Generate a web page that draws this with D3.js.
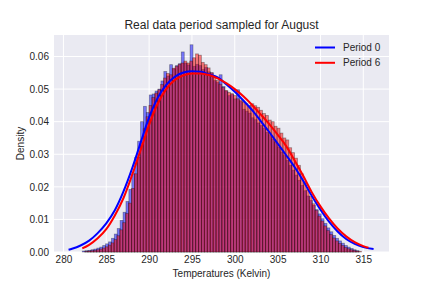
<!DOCTYPE html>
<html>
<head>
<meta charset="utf-8">
<script src="https://cdn.jsdelivr.net/npm/d3@7"></script>
<style>
  body { margin: 0; background: #fff; }
  text { font-family: "Liberation Sans", Arial, sans-serif; fill: #262626; }
</style>
</head>
<body>
<div id="chart"></div>
<script>
const SVG_WIDTH = 432;
const SVG_HEIGHT = 288;
const MARGIN = { top: 35, right: 43, bottom: 36, left: 54 };

// histogram bins (density)
const BIN_WIDTH = 0.34;
const period0Start = 282.2;
const period0Hist = [
    0.0003, 0.0004, 0.0005, 0.0007, 0.0009, 0.0012, 0.0015, 0.0020, 0.0025, 0.0031,
    0.0042, 0.0055, 0.0072, 0.0097, 0.0122, 0.0155, 0.0192, 0.0240, 0.0290, 0.0340,
    0.0400, 0.0447, 0.0428, 0.0482, 0.0485, 0.0494, 0.0500, 0.0525, 0.0554, 0.0540,
    0.0575, 0.0562, 0.0572, 0.0578, 0.0614, 0.0580, 0.0574, 0.0636, 0.0570, 0.0576,
    0.0572, 0.0560, 0.0566, 0.0553, 0.0550, 0.0526, 0.0520, 0.0544, 0.0508, 0.0494,
    0.0480, 0.0484, 0.0470, 0.0498, 0.0462, 0.0438, 0.0432, 0.0426, 0.0412, 0.0406,
    0.0396, 0.0388, 0.0380, 0.0367, 0.0360, 0.0347, 0.0336, 0.0322, 0.0307, 0.0296,
    0.0281, 0.0266, 0.0251, 0.0236, 0.0220, 0.0204, 0.0188, 0.0172, 0.0158, 0.0143,
    0.0130, 0.0117, 0.0102, 0.0088, 0.0074, 0.0062, 0.0051, 0.0042, 0.0034, 0.0027,
    0.0020, 0.0015, 0.0011, 0.0007, 0.0004
];
const period6Start = 282.5;
const period6Hist = [
    0.0002, 0.0003, 0.0004, 0.0005, 0.0007, 0.0009, 0.0012, 0.0016, 0.0021, 0.0028,
    0.0038, 0.0050, 0.0068, 0.0090, 0.0118, 0.0150, 0.0195, 0.0240, 0.0290, 0.0335,
    0.0378, 0.0415, 0.0450, 0.0474, 0.0488, 0.0498, 0.0514, 0.0534, 0.0548, 0.0544,
    0.0564, 0.0570, 0.0576, 0.0580, 0.0586, 0.0580, 0.0586, 0.0596, 0.0608, 0.0604,
    0.0582, 0.0575, 0.0565, 0.0550, 0.0536, 0.0526, 0.0515, 0.0505, 0.0496, 0.0490,
    0.0486, 0.0480, 0.0470, 0.0466, 0.0460, 0.0455, 0.0450, 0.0455, 0.0449, 0.0444,
    0.0435, 0.0425, 0.0419, 0.0405, 0.0400, 0.0386, 0.0380, 0.0365, 0.0350, 0.0344,
    0.0320, 0.0305, 0.0288, 0.0266, 0.0240, 0.0215, 0.0190, 0.0170, 0.0148, 0.0128,
    0.0110, 0.0095, 0.0080, 0.0066, 0.0054, 0.0043, 0.0034, 0.0026, 0.0020, 0.0014,
    0.0010, 0.0007, 0.0005, 0.0003, 0.0002
];

// fitted density curves
const period0CurveX = [280.6, 281, 282, 283, 284, 285, 286, 287, 288, 289, 290, 291, 292, 293, 294, 295, 296, 297, 298,
    299, 300, 301, 302, 303, 304, 305, 306, 307, 308, 309, 310, 311, 312, 313, 314, 315, 316.2];
const period0CurveY = [0.0007, 0.0010, 0.0020, 0.0035, 0.0058, 0.0088, 0.0128, 0.0185, 0.0255, 0.0335, 0.0413, 0.0473,
    0.0513, 0.0538, 0.0551, 0.0555, 0.0553, 0.0545, 0.0536, 0.0515, 0.0492, 0.0465, 0.0436, 0.0403, 0.0369, 0.0333,
    0.0297, 0.0260, 0.0218, 0.0172, 0.0130, 0.0093, 0.0063, 0.0040, 0.0025, 0.0015, 0.0009];
const period6CurveX = [282.2, 283, 284, 285, 286, 287, 288, 289, 290, 291, 292, 293, 294, 295, 296, 297, 298,
    299, 300, 301, 302, 303, 304, 305, 306, 307, 308, 309, 310, 311, 312, 313, 314, 315, 315.6];
const period6CurveY = [0.0011, 0.0022, 0.0042, 0.0070, 0.0112, 0.0165, 0.0235, 0.0312, 0.0390, 0.0455, 0.0500, 0.0528,
    0.0542, 0.0548, 0.0548, 0.0543, 0.0533, 0.0518, 0.0500, 0.0478, 0.0452, 0.0423, 0.0393, 0.0360, 0.0325, 0.0280,
    0.0233, 0.0183, 0.0140, 0.0103, 0.0072, 0.0048, 0.0030, 0.0018, 0.0013];

const xTicks = [280, 285, 290, 295, 300, 305, 310, 315];
const yTicks = [0.00, 0.01, 0.02, 0.03, 0.04, 0.05, 0.06];
const seriesNames = ["Period 0", "Period 6"];
const seriesColors = ["#0000ff", "#ff0000"];

const getScales = () => {
    const x = d3.scaleLinear()
        .domain([278.9, 318.0])
        .range([MARGIN.left, SVG_WIDTH - MARGIN.right]);
    const y = d3.scaleLinear()
        .domain([0, 0.0666])
        .range([SVG_HEIGHT - MARGIN.bottom, MARGIN.top]);
    return { x, y };
};

const appendBackground = (svg, scales) => {
    svg.append("rect")
        .attr("x", MARGIN.left)
        .attr("y", MARGIN.top)
        .attr("width", SVG_WIDTH - MARGIN.left - MARGIN.right)
        .attr("height", SVG_HEIGHT - MARGIN.top - MARGIN.bottom)
        .attr("fill", "#eaeaf2");

    svg.append("g").selectAll("line")
        .data(xTicks)
        .enter().append("line")
        .attr("x1", d => scales.x(d)).attr("x2", d => scales.x(d))
        .attr("y1", MARGIN.top).attr("y2", SVG_HEIGHT - MARGIN.bottom)
        .attr("stroke", "#fff").attr("stroke-width", 1);

    svg.append("g").selectAll("line")
        .data(yTicks)
        .enter().append("line")
        .attr("x1", MARGIN.left).attr("x2", SVG_WIDTH - MARGIN.right)
        .attr("y1", d => scales.y(d)).attr("y2", d => scales.y(d))
        .attr("stroke", "#fff").attr("stroke-width", 1);
};

const appendAxes = (svg, scales) => {
    const xAxis = svg.append("g")
        .attr("transform", `translate(0,${SVG_HEIGHT - MARGIN.bottom})`)
        .call(d3.axisBottom(scales.x).tickValues(xTicks).tickSize(0).tickPadding(4).tickFormat(d3.format("d")));
    xAxis.select(".domain").remove();
    xAxis.selectAll("text").style("font-size", "10px").style("font-family", null);

    const yAxis = svg.append("g")
        .attr("transform", `translate(${MARGIN.left},0)`)
        .call(d3.axisLeft(scales.y).tickValues(yTicks).tickSize(0).tickPadding(5).tickFormat(d3.format(".2f")));
    yAxis.select(".domain").remove();
    yAxis.selectAll("text").style("font-size", "10px").style("font-family", null);

    svg.append("text")
        .attr("x", (MARGIN.left + SVG_WIDTH - MARGIN.right) / 2)
        .attr("y", 277)
        .attr("text-anchor", "middle")
        .style("font-size", "10px")
        .text("Temperatures (Kelvin)");

    svg.append("text")
        .attr("transform", `translate(24,${(MARGIN.top + SVG_HEIGHT - MARGIN.bottom) / 2}) rotate(-90)`)
        .attr("text-anchor", "middle")
        .style("font-size", "10px")
        .text("Density");

    svg.append("text")
        .attr("x", (MARGIN.left + SVG_WIDTH - MARGIN.right) / 2)
        .attr("y", 29)
        .attr("text-anchor", "middle")
        .style("font-size", "12px")
        .text("Real data period sampled for August");
};

const appendHist = (svg, scales, start, values, color) => {
    svg.append("g").selectAll("rect")
        .data(values)
        .enter().append("rect")
        .attr("x", (d, i) => scales.x(start + i * BIN_WIDTH))
        .attr("width", (d, i) => scales.x(start + (i + 1) * BIN_WIDTH) - scales.x(start + i * BIN_WIDTH))
        .attr("y", d => scales.y(d))
        .attr("height", d => scales.y(0) - scales.y(d))
        .attr("fill", color)
        .attr("fill-opacity", 0.5)
        .attr("stroke", "#000")
        .attr("stroke-opacity", 0.35)
        .attr("stroke-width", 0.8);
};

const appendCurve = (svg, scales, xs, ys, color) => {
    const line = d3.line()
        .x(d => scales.x(d[0]))
        .y(d => scales.y(d[1]))
        .curve(d3.curveMonotoneX);
    svg.append("path")
        .datum(xs.map((v, i) => [v, ys[i]]))
        .attr("d", line)
        .attr("fill", "none")
        .attr("stroke", color)
        .attr("stroke-width", 2);
};

const appendLegend = (svg) => {
    const legend = svg.append("g");
    seriesNames.forEach((name, i) => {
        const yPos = 47.5 + i * 15.3;
        legend.append("line")
            .attr("x1", 315).attr("x2", 335)
            .attr("y1", yPos).attr("y2", yPos)
            .attr("stroke", seriesColors[i]).attr("stroke-width", 2);
        legend.append("text")
            .attr("x", 343).attr("y", yPos + 3.5)
            .style("font-size", "10px")
            .text(name);
    });
};

const drawChart = (containerId) => {
    const container = d3.select("#" + containerId);
    container.html("");
    const svg = container.append("svg")
        .attr("width", SVG_WIDTH)
        .attr("height", SVG_HEIGHT);

    const scales = getScales();
    appendBackground(svg, scales);
    appendHist(svg, scales, period0Start, period0Hist, seriesColors[0]);
    appendHist(svg, scales, period6Start, period6Hist, seriesColors[1]);
    appendCurve(svg, scales, period0CurveX, period0CurveY, seriesColors[0]);
    appendCurve(svg, scales, period6CurveX, period6CurveY, seriesColors[1]);
    appendAxes(svg, scales);
    appendLegend(svg);
};

drawChart("chart");
</script>
</body>
</html>
